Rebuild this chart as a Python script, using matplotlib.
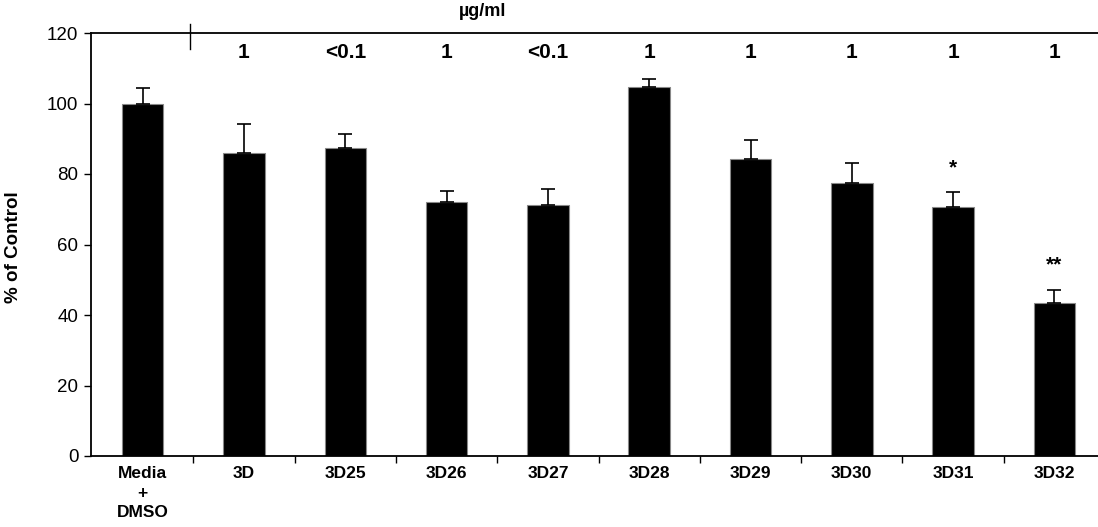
import matplotlib.pyplot as plt
from matplotlib.transforms import blended_transform_factory

plt.rcParams['font.family'] = ['Liberation Sans', 'DejaVu Sans']

categories = ["Media\n+\nDMSO", "3D", "3D25", "3D26", "3D27", "3D28", "3D29", "3D30", "3D31", "3D32"]
values = [100.0, 86.0, 87.5, 72.1, 71.2, 104.6, 84.2, 77.4, 70.7, 43.5]
err_up = [4.5, 8.1, 3.9, 3.2, 4.5, 2.3, 5.4, 5.7, 4.1, 3.6]
conc = ["", "1", "<0.1", "1", "<0.1", "1", "1", "1", "1", "1"]
stars = ["", "", "", "", "", "", "", "", "*", "**"]

fig = plt.figure(figsize=(10.98, 5.27), dpi=100)
ax = fig.add_axes([91 / 1098, 1 - 456 / 527, 1 - 91 / 1098, (456 - 33) / 527])

x = list(range(len(categories)))
ax.bar(x, values, width=0.41, color="black", edgecolor="#888888", linewidth=0.8, zorder=2)
ax.errorbar(x, values, yerr=[[0] * len(values), err_up], fmt="none", ecolor="black",
            elinewidth=1.2, capsize=5, capthick=1.2, zorder=3)

ax.set_xlim(-0.51, 9.43)
ax.set_ylim(0, 120)
ax.set_yticks(range(0, 121, 20))
ax.tick_params(axis="y", labelsize=13.5, length=5, width=1, direction="out", pad=4)

ax.set_xticks(x)
ax.set_xticklabels(categories, fontsize=12.5, fontweight="bold", linespacing=1.4)
ax.tick_params(axis="x", which="major", length=0, pad=7)
ax.set_xticks([i + 0.5 for i in range(9)], minor=True)
ax.tick_params(axis="x", which="minor", length=5, width=1, direction="out")

ax.spines["right"].set_visible(False)
for s in ["left", "bottom", "top"]:
    ax.spines[s].set_linewidth(1.3)

fig.text(14 / 1098, 1 - 247 / 527, "% of Control", rotation=90, ha="center", va="center",
         fontsize=13.5, fontweight="bold")

# concentration labels along top
for i, c in enumerate(conc):
    if c:
        ax.text(i, 114.6, c, ha="center", va="center", fontsize=15, fontweight="bold")

for i, s in enumerate(stars):
    if s:
        ax.text(i, values[i] + err_up[i] + 7, s, ha="center", va="center", fontsize=15, fontweight="bold")

trans = blended_transform_factory(ax.transData, ax.transAxes)
ax.plot([0.47, 0.47], [1.022, 0.963], color="black", lw=1, transform=trans, clip_on=False)
fig.text(483 / 1098, 1 - 11 / 527, "µg/ml", ha="center", va="center", fontsize=13, fontweight="bold")

fig.savefig("out.png", dpi=100)
